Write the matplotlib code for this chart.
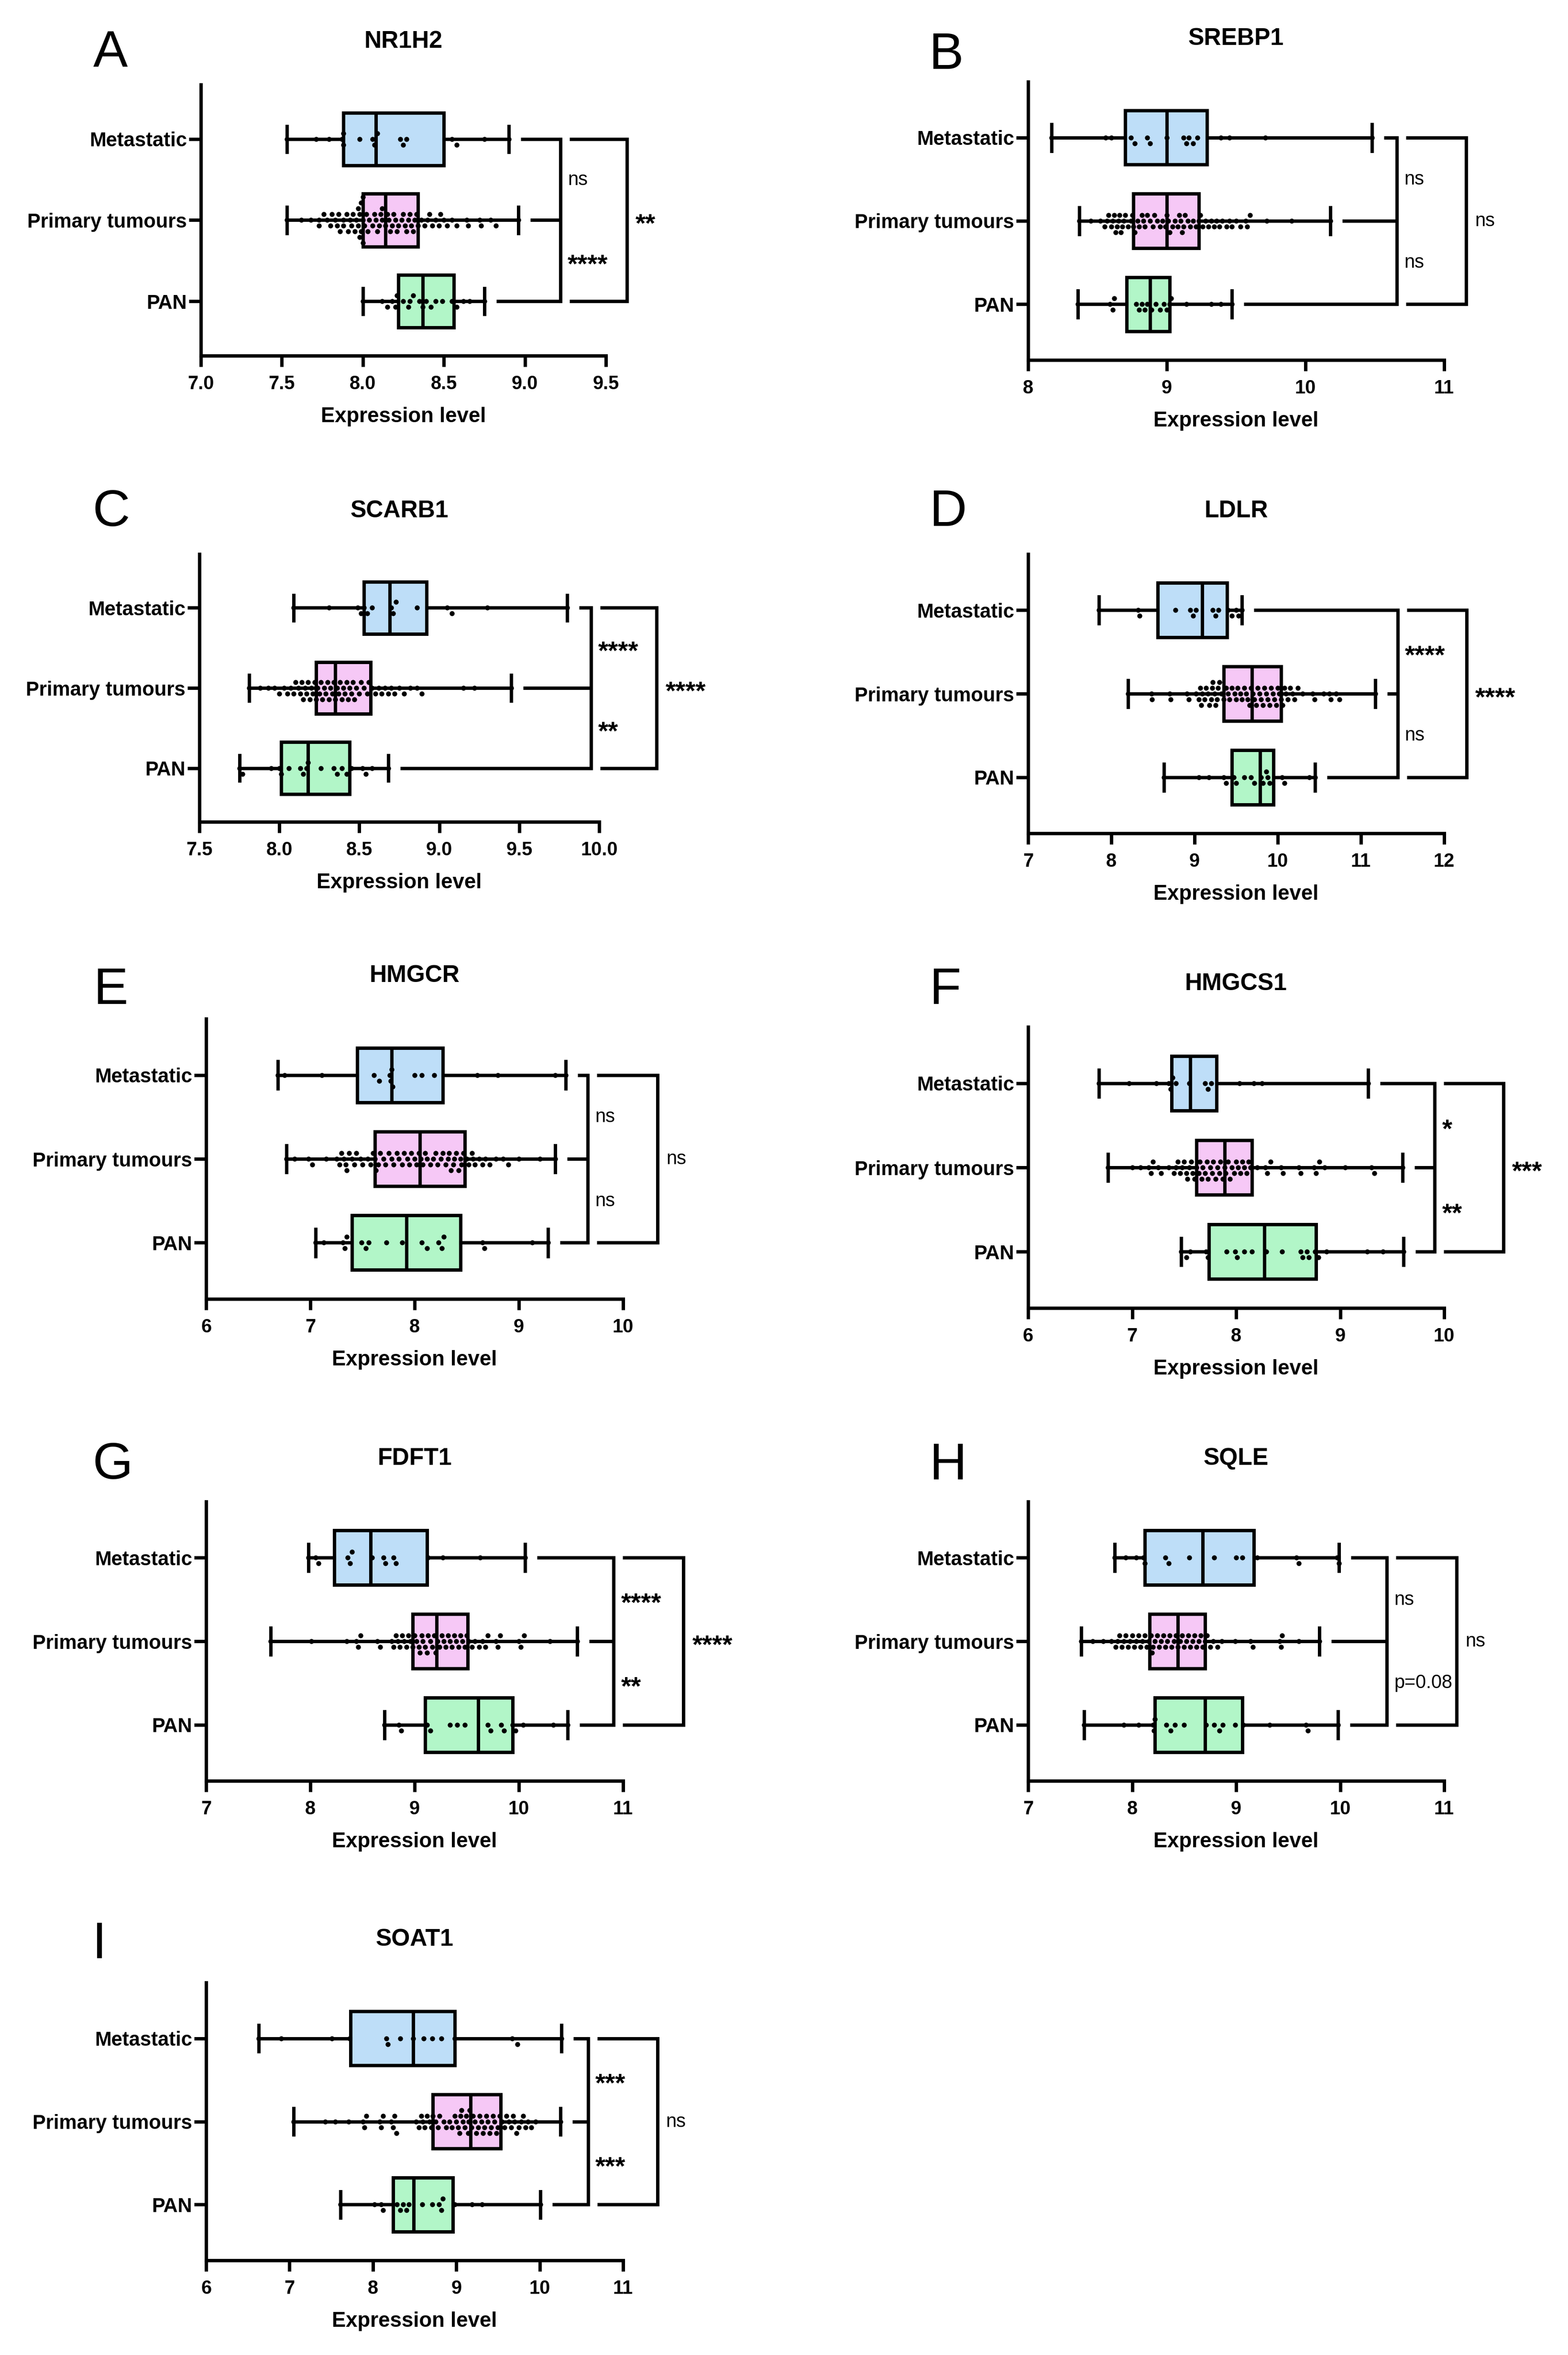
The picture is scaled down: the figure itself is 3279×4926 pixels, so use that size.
import numpy as np
import matplotlib
matplotlib.use("Agg")
import matplotlib.pyplot as plt

plt.rcParams['font.family'] = ['Liberation Sans', 'DejaVu Sans']

# ---------------- data ----------------
groups = ["Metastatic", "Primary tumours", "PAN"]
box_colors = ["#BEDEF8", "#F6C8F6", "#B2F6C8"]

genes = ["NR1H2", "SREBP1", "SCARB1", "LDLR", "HMGCR", "HMGCS1", "FDFT1", "SQLE", "SOAT1"]
letters = ["A", "B", "C", "D", "E", "F", "G", "H", "I"]

# box summaries per group (min, Q1, median, Q3, max): Metastatic, Primary tumours, PAN
nr1h2_box = [[7.53, 7.88, 8.08, 8.50, 8.90], [7.53, 8.00, 8.14, 8.34, 8.96], [8.00, 8.22, 8.37, 8.56, 8.75]]
srebp1_box = [[8.17, 8.70, 9.00, 9.29, 10.48], [8.37, 8.76, 9.00, 9.23, 10.18], [8.36, 8.71, 8.88, 9.02, 9.47]]
scarb1_box = [[8.09, 8.53, 8.69, 8.92, 9.80], [7.81, 8.23, 8.35, 8.57, 9.45], [7.75, 8.01, 8.18, 8.44, 8.68]]
ldlr_box = [[7.85, 8.56, 9.09, 9.39, 9.57], [8.20, 9.35, 9.69, 10.04, 11.17], [8.63, 9.45, 9.79, 9.95, 10.45]]
hmgcr_box = [[6.69, 7.45, 7.78, 8.27, 9.45], [6.77, 7.62, 8.05, 8.48, 9.35], [7.05, 7.40, 7.92, 8.44, 9.28]]
hmgcs1_box = [[6.68, 7.38, 7.56, 7.81, 9.27], [6.77, 7.62, 7.89, 8.15, 9.60], [7.47, 7.74, 8.27, 8.77, 9.61]]
fdft1_box = [[7.98, 8.23, 8.58, 9.12, 10.06], [7.62, 8.98, 9.21, 9.51, 10.56], [8.71, 9.10, 9.61, 9.94, 10.47]]
sqle_box = [[7.83, 8.12, 8.68, 9.17, 9.99], [7.51, 8.17, 8.44, 8.70, 9.80], [7.54, 8.22, 8.70, 9.06, 9.98]]
soat1_box = [[6.63, 7.73, 8.48, 8.98, 10.26], [7.05, 8.72, 9.17, 9.53, 10.25], [7.61, 8.24, 8.49, 8.96, 10.01]]

# individual expression values
nr1h2_met = [7.53, 7.71, 7.79, 7.87, 7.88, 7.88, 7.98, 8.06, 8.07, 8.09, 8.23, 8.25, 8.27, 8.55, 8.58, 8.75, 8.90]
nr1h2_pri = [7.53, 7.62, 7.68, 7.73, 7.73, 7.76, 7.78, 7.80, 7.81, 7.83, 7.84, 7.85, 7.86, 7.88, 7.88, 7.90,
             7.91, 7.92, 7.93, 7.94, 7.95, 7.96, 7.97, 7.97, 7.98, 7.98, 7.99, 7.99, 8.00, 8.00, 8.00, 8.01,
             8.02, 8.03, 8.04, 8.06, 8.07, 8.08, 8.09, 8.10, 8.11, 8.12, 8.12, 8.14, 8.15, 8.16, 8.17, 8.18,
             8.19, 8.20, 8.21, 8.22, 8.24, 8.25, 8.26, 8.27, 8.28, 8.29, 8.30, 8.31, 8.32, 8.33, 8.34, 8.36,
             8.38, 8.40, 8.41, 8.43, 8.45, 8.47, 8.48, 8.50, 8.52, 8.55, 8.58, 8.64, 8.65, 8.72, 8.73, 8.79,
             8.82, 8.96]
nr1h2_pan = [8.00, 8.12, 8.15, 8.18, 8.20, 8.21, 8.25, 8.28, 8.29, 8.31, 8.35, 8.37, 8.39, 8.42, 8.45, 8.49,
             8.55, 8.58, 8.62, 8.66, 8.75]

srebp1_met = [8.17, 8.56, 8.60, 8.74, 8.77, 8.86, 8.88, 9.00, 9.12, 9.14, 9.16, 9.19, 9.22, 9.39, 9.45, 9.71, 10.48]
srebp1_pri = [8.37, 8.45, 8.52, 8.55, 8.57, 8.58, 8.60, 8.61, 8.62, 8.63, 8.64, 8.65, 8.66, 8.67, 8.68, 8.69,
              8.70, 8.72, 8.74, 8.75, 8.76, 8.77, 8.79, 8.80, 8.82, 8.83, 8.84, 8.86, 8.88, 8.90, 8.91, 8.93,
              8.95, 8.97, 8.99, 9.00, 9.01, 9.02, 9.04, 9.06, 9.08, 9.09, 9.10, 9.11, 9.12, 9.13, 9.15, 9.17,
              9.19, 9.21, 9.23, 9.24, 9.26, 9.28, 9.30, 9.32, 9.34, 9.36, 9.38, 9.40, 9.43, 9.45, 9.47, 9.50,
              9.53, 9.57, 9.58, 9.60, 9.72, 9.90, 10.18]
srebp1_pan = [8.36, 8.59, 8.61, 8.62, 8.78, 8.80, 8.82, 8.84, 8.86, 8.89, 8.92, 8.95, 8.98, 9.00, 9.02, 9.03,
              9.14, 9.32, 9.39, 9.47]

scarb1_met = [8.09, 8.31, 8.49, 8.51, 8.53, 8.55, 8.58, 8.70, 8.71, 8.73, 8.86, 9.05, 9.08, 9.30, 9.80]
scarb1_pri = [7.81, 7.88, 7.93, 7.97, 8.00, 8.03, 8.05, 8.07, 8.09, 8.10, 8.12, 8.13, 8.14, 8.15, 8.16, 8.17,
              8.18, 8.19, 8.20, 8.21, 8.22, 8.23, 8.24, 8.25, 8.26, 8.27, 8.28, 8.29, 8.30, 8.31, 8.32, 8.33,
              8.34, 8.35, 8.36, 8.37, 8.38, 8.39, 8.40, 8.41, 8.42, 8.43, 8.44, 8.45, 8.46, 8.47, 8.48, 8.50,
              8.51, 8.53, 8.55, 8.56, 8.58, 8.60, 8.62, 8.64, 8.66, 8.68, 8.70, 8.72, 8.75, 8.78, 8.82, 8.86,
              8.89, 9.15, 9.22, 9.45]
scarb1_pan = [7.75, 7.77, 7.95, 8.00, 8.01, 8.06, 8.13, 8.15, 8.17, 8.18, 8.26, 8.34, 8.36, 8.39, 8.42, 8.45,
              8.52, 8.54, 8.58, 8.68]

ldlr_met = [7.85, 8.32, 8.34, 8.77, 8.95, 8.98, 9.02, 9.22, 9.25, 9.29, 9.40, 9.45, 9.50, 9.53, 9.57]
ldlr_pri = [8.20, 8.48, 8.49, 8.70, 8.71, 8.91, 8.93, 9.02, 9.05, 9.07, 9.08, 9.09, 9.12, 9.14, 9.16, 9.18,
            9.20, 9.21, 9.22, 9.24, 9.25, 9.27, 9.28, 9.30, 9.32, 9.35, 9.38, 9.40, 9.42, 9.45, 9.48, 9.50,
            9.52, 9.55, 9.57, 9.60, 9.62, 9.64, 9.66, 9.68, 9.70, 9.72, 9.74, 9.76, 9.78, 9.80, 9.82, 9.84,
            9.86, 9.88, 9.90, 9.92, 9.94, 9.96, 9.98, 10.00, 10.02, 10.04, 10.06, 10.08, 10.10, 10.12, 10.15,
            10.18, 10.20, 10.24, 10.30, 10.42, 10.44, 10.55, 10.62, 10.64, 10.70, 10.74, 11.17]
ldlr_pan = [8.63, 9.05, 9.17, 9.35, 9.38, 9.47, 9.50, 9.60, 9.68, 9.72, 9.80, 9.82, 9.86, 9.88, 9.90, 10.05,
            10.08, 10.38, 10.45]

hmgcr_met = [6.69, 6.75, 7.11, 7.61, 7.66, 7.76, 7.77, 7.78, 7.79, 8.00, 8.07, 8.19, 8.60, 8.80, 9.35, 9.45]
hmgcr_pri = [6.77, 6.85, 6.98, 7.02, 7.15, 7.25, 7.28, 7.30, 7.32, 7.34, 7.35, 7.37, 7.40, 7.42, 7.44, 7.48,
             7.50, 7.55, 7.58, 7.60, 7.62, 7.63, 7.65, 7.67, 7.70, 7.72, 7.75, 7.78, 7.80, 7.83, 7.85, 7.88,
             7.90, 7.93, 7.95, 7.97, 8.00, 8.02, 8.04, 8.06, 8.08, 8.10, 8.12, 8.15, 8.18, 8.20, 8.22, 8.25,
             8.27, 8.30, 8.32, 8.33, 8.35, 8.37, 8.38, 8.40, 8.42, 8.44, 8.45, 8.47, 8.50, 8.52, 8.55, 8.56,
             8.58, 8.62, 8.65, 8.68, 8.72, 8.78, 8.85, 8.90, 9.00, 9.20, 9.35]
hmgcr_pan = [7.05, 7.13, 7.31, 7.33, 7.35, 7.49, 7.53, 7.56, 7.73, 7.88, 8.07, 8.12, 8.23, 8.26, 8.28, 8.65,
             8.67, 9.13, 9.28]

hmgcs1_met = [6.68, 6.97, 7.23, 7.35, 7.37, 7.39, 7.42, 7.55, 7.70, 7.73, 7.76, 8.03, 8.17, 8.25, 9.27]
hmgcs1_pri = [6.77, 7.00, 7.08, 7.16, 7.18, 7.20, 7.25, 7.28, 7.35, 7.40, 7.42, 7.44, 7.46, 7.48, 7.50, 7.52,
              7.53, 7.55, 7.57, 7.58, 7.60, 7.62, 7.64, 7.65, 7.67, 7.68, 7.70, 7.72, 7.73, 7.75, 7.77, 7.78,
              7.80, 7.82, 7.84, 7.85, 7.87, 7.89, 7.90, 7.92, 7.94, 7.96, 7.98, 8.00, 8.02, 8.04, 8.06, 8.08,
              8.10, 8.12, 8.14, 8.20, 8.28, 8.30, 8.33, 8.43, 8.45, 8.60, 8.62, 8.75, 8.77, 8.80, 8.85, 9.05,
              9.30, 9.33, 9.60]
hmgcs1_pan = [7.47, 7.52, 7.56, 7.71, 7.73, 7.91, 7.99, 8.01, 8.08, 8.15, 8.29, 8.44, 8.62, 8.64, 8.68, 8.70,
              8.76, 8.79, 8.87, 9.26, 9.41, 9.61]

fdft1_met = [7.98, 8.05, 8.08, 8.36, 8.38, 8.40, 8.59, 8.70, 8.72, 8.80, 8.82, 9.13, 9.27, 9.63, 10.06]
fdft1_pri = [7.62, 8.01, 8.35, 8.44, 8.46, 8.48, 8.64, 8.67, 8.78, 8.80, 8.82, 8.84, 8.86, 8.88, 8.90, 8.92,
             8.94, 8.96, 8.98, 9.00, 9.02, 9.04, 9.05, 9.07, 9.08, 9.10, 9.12, 9.13, 9.15, 9.17, 9.19, 9.20,
             9.22, 9.24, 9.26, 9.28, 9.30, 9.32, 9.34, 9.36, 9.38, 9.40, 9.42, 9.44, 9.46, 9.48, 9.50, 9.52,
             9.55, 9.58, 9.62, 9.65, 9.68, 9.70, 9.78, 9.80, 9.82, 10.00, 10.02, 10.05, 10.30, 10.56]
fdft1_pan = [8.71, 8.85, 8.87, 9.12, 9.15, 9.34, 9.41, 9.48, 9.70, 9.73, 9.83, 9.86, 9.94, 9.97, 10.04, 10.33,
             10.47]

sqle_met = [7.83, 7.94, 8.04, 8.11, 8.12, 8.32, 8.35, 8.55, 8.79, 9.00, 9.06, 9.20, 9.58, 9.60, 9.97, 9.99]
sqle_pri = [7.51, 7.62, 7.72, 7.80, 7.84, 7.86, 7.88, 7.90, 7.92, 7.94, 7.96, 7.98, 8.00, 8.02, 8.04, 8.06,
            8.08, 8.10, 8.12, 8.14, 8.16, 8.18, 8.19, 8.20, 8.22, 8.24, 8.26, 8.28, 8.30, 8.32, 8.34, 8.36,
            8.38, 8.40, 8.42, 8.44, 8.46, 8.48, 8.50, 8.52, 8.54, 8.56, 8.58, 8.60, 8.62, 8.64, 8.66, 8.68,
            8.70, 8.72, 8.75, 8.78, 8.82, 8.86, 8.99, 9.14, 9.16, 9.42, 9.43, 9.44, 9.60, 9.80]
sqle_pan = [7.54, 7.92, 8.06, 8.20, 8.21, 8.22, 8.33, 8.37, 8.41, 8.50, 8.71, 8.79, 8.84, 8.87, 8.99, 9.07,
            9.32, 9.67, 9.69, 9.98]

soat1_met = [6.63, 6.90, 7.51, 7.72, 8.16, 8.18, 8.33, 8.48, 8.61, 8.71, 8.82, 8.98, 9.67, 9.73, 10.26]
soat1_pri = [7.05, 7.43, 7.55, 7.71, 7.88, 7.90, 7.92, 8.08, 8.10, 8.12, 8.22, 8.24, 8.26, 8.28, 8.52, 8.55,
             8.58, 8.60, 8.62, 8.65, 8.68, 8.70, 8.72, 8.75, 8.78, 8.80, 8.85, 8.88, 8.92, 8.95, 8.98, 9.00,
             9.02, 9.04, 9.05, 9.06, 9.08, 9.10, 9.12, 9.14, 9.15, 9.16, 9.18, 9.20, 9.22, 9.24, 9.26, 9.28,
             9.30, 9.32, 9.34, 9.36, 9.38, 9.40, 9.42, 9.44, 9.46, 9.48, 9.50, 9.52, 9.55, 9.58, 9.60, 9.63,
             9.66, 9.68, 9.70, 9.72, 9.75, 9.78, 9.80, 9.83, 9.86, 9.90, 9.95, 10.25]
soat1_pan = [7.61, 8.02, 8.10, 8.12, 8.29, 8.33, 8.36, 8.40, 8.43, 8.59, 8.71, 8.79, 8.82, 8.84, 8.98, 9.19,
             9.31, 10.01]

# x-axis ticks
nr1h2_ticks = [7.0, 7.5, 8.0, 8.5, 9.0, 9.5]
srebp1_ticks = [8, 9, 10, 11]
scarb1_ticks = [7.5, 8.0, 8.5, 9.0, 9.5, 10.0]
ldlr_ticks = [7, 8, 9, 10, 11, 12]
hmgcr_ticks = [6, 7, 8, 9, 10]
hmgcs1_ticks = [6, 7, 8, 9, 10]
fdft1_ticks = [7, 8, 9, 10, 11]
sqle_ticks = [7, 8, 9, 10, 11]
soat1_ticks = [6, 7, 8, 9, 10, 11]

# significance: (Metastatic vs Primary, Primary vs PAN, Metastatic vs PAN)
nr1h2_sig = ["ns", "****", "**"]
srebp1_sig = ["ns", "ns", "ns"]
scarb1_sig = ["****", "**", "****"]
ldlr_sig = ["****", "ns", "****"]
hmgcr_sig = ["ns", "ns", "ns"]
hmgcs1_sig = ["*", "**", "***"]
fdft1_sig = ["****", "**", "****"]
sqle_sig = ["ns", "p=0.08", "ns"]
soat1_sig = ["***", "***", "ns"]

panels = [
    (nr1h2_box, [nr1h2_met, nr1h2_pri, nr1h2_pan], nr1h2_ticks, nr1h2_sig),
    (srebp1_box, [srebp1_met, srebp1_pri, srebp1_pan], srebp1_ticks, srebp1_sig),
    (scarb1_box, [scarb1_met, scarb1_pri, scarb1_pan], scarb1_ticks, scarb1_sig),
    (ldlr_box, [ldlr_met, ldlr_pri, ldlr_pan], ldlr_ticks, ldlr_sig),
    (hmgcr_box, [hmgcr_met, hmgcr_pri, hmgcr_pan], hmgcr_ticks, hmgcr_sig),
    (hmgcs1_box, [hmgcs1_met, hmgcs1_pri, hmgcs1_pan], hmgcs1_ticks, hmgcs1_sig),
    (fdft1_box, [fdft1_met, fdft1_pri, fdft1_pan], fdft1_ticks, fdft1_sig),
    (sqle_box, [sqle_met, sqle_pri, sqle_pan], sqle_ticks, sqle_sig),
    (soat1_box, [soat1_met, soat1_pri, soat1_pan], soat1_ticks, soat1_sig),
]

# ---------------- layout (pixels of the 3279x4926 canvas) ----------------
W, H, DPI = 3279, 4926, 300
# axes rectangles: left, top, right, bottom
rects = [(420, 177, 1267, 744), (2150, 171, 3020, 753),
         (417, 1159, 1253, 1719), (2150, 1159, 3020, 1743),
         (431, 2131, 1303, 2717), (2150, 2148, 3020, 2736),
         (431, 3141, 1303, 3725), (2150, 3141, 3020, 3725),
         (431, 4147, 1303, 4728)]
letter_pos = [(231, 113), (1978, 116), (233, 1072), (1982, 1072), (231, 2072),
              (1976, 2072), (236, 3065), (1982, 3065), (208, 4068)]
# bracket x positions (inner, outer) in data units
brackets = [(9.22, 9.63), (10.66, 11.16), (9.95, 10.36), (11.44, 12.27), (9.66, 10.33),
            (9.91, 10.57), (10.91, 11.58), (10.45, 11.12), (10.58, 11.41)]

LW = 1.7
YLIM = (2.67, -0.67)


def swarm(vals, px_per_unit, d=11.0, step=12.0):
    vals = np.asarray(vals, dtype=float)
    order = np.argsort(vals)
    placed = []
    offs = np.zeros(len(vals))
    cands = [0]
    for j in range(1, 40):
        cands += [j, -j]
    for i in order:
        x = vals[i] * px_per_unit
        for c in cands:
            y = c * step
            ok = True
            for px, py in placed:
                if abs(x - px) < d and abs(y - py) < step * 0.5:
                    ok = False
                    break
            if ok:
                placed.append((x, y))
                offs[i] = y
                break
    return offs


fig = plt.figure(figsize=(W / DPI, H / DPI), dpi=DPI)

for k, (box, pts, ticks, sig) in enumerate(panels):
    L, T, R, B = rects[k]
    ax = fig.add_axes([L / W, 1 - B / H, (R - L) / W, (B - T) / H])
    xmin, xmax = ticks[0], ticks[-1]
    ax.set_xlim(xmin, xmax)
    ax.set_ylim(*YLIM)
    ppu = (R - L) / (xmax - xmin)
    row_px = (B - T) / (YLIM[0] - YLIM[1])

    stats = []
    for g, s in zip(groups, box):
        stats.append(dict(label=g, whislo=s[0], q1=s[1], med=s[2], q3=s[3], whishi=s[4], fliers=[]))
    bp = ax.bxp(stats, positions=[0, 1, 2], widths=0.65, orientation='horizontal',
                patch_artist=True, showfliers=False, capwidths=0.32,
                boxprops=dict(linewidth=LW, edgecolor='black'),
                medianprops=dict(color='black', linewidth=LW),
                whiskerprops=dict(color='black', linewidth=LW),
                capprops=dict(color='black', linewidth=LW))
    for patch, c in zip(bp['boxes'], box_colors):
        patch.set_facecolor(c)

    for gi, vals in enumerate(pts):
        offs = swarm(vals, ppu)
        ax.plot(vals, gi + offs / row_px, 'o', color='black', ms=2.5, mew=0, zorder=5,
                clip_on=False)

    # axes styling
    for sp in ['top', 'right']:
        ax.spines[sp].set_visible(False)
    for sp in ['left', 'bottom']:
        ax.spines[sp].set_linewidth(LW)
    ax.set_yticks([0, 1, 2], groups)
    ax.set_xticks(ticks)
    if isinstance(ticks[0], float):
        ax.set_xticklabels([f"{t:.1f}" for t in ticks])
    ax.tick_params(axis='x', length=5.5, width=LW, pad=4, labelsize=9.5)
    ax.tick_params(axis='y', length=6, width=LW, pad=1, labelsize=10)
    for lab in ax.get_xticklabels() + ax.get_yticklabels():
        lab.set_fontweight('bold')
    ax.set_xlabel("Expression level", fontsize=10.5, fontweight='bold', labelpad=7)

    ax.annotate(genes[k], xy=(0.5, 1.0), xycoords='axes fraction', xytext=(0, 21.5),
                textcoords='offset points', ha='center', va='center',
                fontsize=12, fontweight='bold')
    lx, ly = letter_pos[k]
    fig.text(lx / W, 1 - ly / H, letters[k], ha='center', va='center', fontsize=26)

    # significance brackets
    inner, outer = brackets[k]
    gap = 25 / ppu
    gap2 = 19 / ppu
    for gi, s in enumerate(box):
        ax.plot([s[4] + gap, inner], [gi, gi], color='black', lw=LW, clip_on=False,
                solid_capstyle='butt')
    ax.plot([inner, inner], [0, 2], color='black', lw=LW, clip_on=False)
    for gi in [0, 2]:
        ax.plot([inner + gap2, outer], [gi, gi], color='black', lw=LW, clip_on=False,
                solid_capstyle='butt')
    ax.plot([outer, outer], [0, 2], color='black', lw=LW, clip_on=False)

    off = 15 / ppu
    for txt, (x, y) in zip(sig, [(inner + off, 0.5), (inner + off, 1.5), (outer + 1.2 * off, 1.0)]):
        if txt.startswith('*'):
            ax.text(x, y + 0.06, txt, ha='left', va='center', fontsize=13, fontweight='bold',
                    clip_on=False)
        else:
            ax.text(x, y, txt, ha='left', va='center', fontsize=9.5, clip_on=False)

fig.savefig("out.png", dpi=DPI, facecolor='white')
